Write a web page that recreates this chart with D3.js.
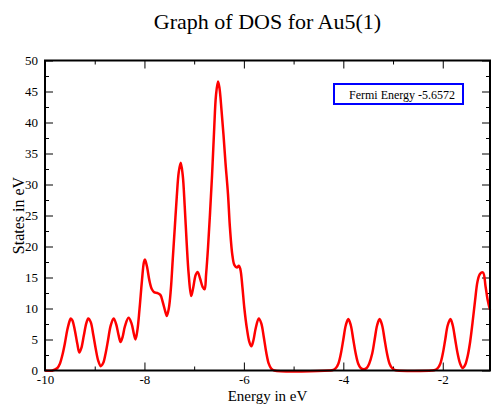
<!DOCTYPE html>
<html>
<head>
<meta charset="utf-8">
<script src="https://cdn.jsdelivr.net/npm/d3@7"></script>
<style>
  html, body { margin: 0; padding: 0; background: #fff; }
  svg { display: block; }
  text { font-family: "Liberation Serif", "Times New Roman", serif; fill: #000; }
</style>
</head>
<body>
<svg id="chart" width="493" height="405"></svg>
<script>
// ---- data ----
const titleText = "Graph of DOS for Au5(1)";
const xLabel = "Energy in eV";
const yLabel = "States in eV";
const legendText = "Fermi Energy -5.6572";
const xTicks = [-10, -8, -6, -4, -2];
const yTicks = [0, 5, 10, 15, 20, 25, 30, 35, 40, 45, 50];
const energy = [
  -10.0, -9.85, -9.75, -9.70, -9.65, -9.60, -9.55, -9.50, -9.48, -9.45, -9.40, -9.35, -9.31,
  -9.27, -9.22, -9.17, -9.13, -9.08, -9.03, -8.98, -8.93, -8.88, -8.83, -8.78, -8.73, -8.68,
  -8.62, -8.57, -8.52, -8.48, -8.44, -8.39, -8.32, -8.26, -8.21, -8.18, -8.14, -8.10, -8.05,
  -8.01, -7.99, -7.95, -7.90, -7.85, -7.80, -7.74, -7.68, -7.63, -7.58, -7.55, -7.51, -7.47,
  -7.43, -7.39, -7.35, -7.31, -7.27, -7.23, -7.19, -7.15, -7.11, -7.06, -7.02, -6.97, -6.93,
  -6.88, -6.83, -6.79, -6.76, -6.72, -6.68, -6.64, -6.60, -6.56, -6.52, -6.49, -6.45, -6.41,
  -6.37, -6.32, -6.28, -6.23, -6.19, -6.14, -6.10, -6.07, -6.03, -5.99, -5.94, -5.89, -5.85,
  -5.81, -5.76, -5.70, -5.65, -5.60, -5.55, -5.50, -5.45, -5.39, -4.28, -4.20, -4.15, -4.10,
  -4.05, -4.00, -3.95, -3.90, -3.85, -3.80, -3.75, -3.70, -3.65, -3.59, -3.53, -3.48, -3.42,
  -3.37, -3.32, -3.27, -3.22, -3.17, -3.12, -3.07, -3.02, -2.97, -2.92, -2.22, -2.15, -2.10,
  -2.05, -2.00, -1.95, -1.90, -1.845, -1.80, -1.75, -1.70, -1.65, -1.60, -1.55, -1.50, -1.45,
  -1.40, -1.35, -1.30, -1.25, -1.19, -1.14, -1.10, -1.05
];
const dos = [
  0.0, 0.0, 0.4, 1.1, 2.5, 4.4, 6.6, 8.1, 8.4, 8.1, 6.5, 4.3, 2.9,
  3.6, 5.6, 7.6, 8.4, 7.8, 5.8, 3.5, 1.6, 0.7, 1.2, 2.8, 5.0, 7.2,
  8.4, 7.5, 5.7, 4.6, 5.4, 7.2, 8.5, 7.6, 5.8, 5.0, 6.6, 9.8, 14.5,
  17.5, 17.9, 16.8, 14.5, 13.1, 12.6, 12.5, 12.2, 11.0, 9.5, 8.8, 10.0, 13.0,
  18.0, 23.0, 28.0, 32.0, 33.5, 31.5, 26.5, 20.5, 15.5, 12.0, 13.3, 15.4, 15.9,
  14.8, 13.5, 13.1, 15.5, 20.0, 25.5, 31.5, 38.5, 44.5, 46.6, 45.5, 42.0, 38.0,
  33.5, 28.5, 23.0, 18.5, 17.0, 16.6, 16.9, 16.3, 13.5, 10.0, 6.8, 4.6, 3.9,
  4.8, 6.9, 8.4, 7.6, 5.4, 2.9, 1.1, 0.3, 0.0, 0.0, 0.1, 0.4, 1.1,
  2.7, 5.0, 7.3, 8.3, 7.3, 5.0, 2.7, 1.1, 0.4, 0.2, 0.4, 1.1, 2.7,
  5.0, 7.3, 8.3, 7.3, 5.0, 2.7, 1.1, 0.4, 0.1, 0.0, 0.0, 0.1, 0.4,
  1.1, 2.7, 5.0, 7.3, 8.3, 7.3, 5.0, 2.7, 1.1, 0.4, 0.9, 2.3, 4.6,
  7.8, 11.3, 14.4, 15.6, 15.8, 13.6, 11.5, 9.8
];

// ---- layout ----
const svg = d3.select("#chart");
const mL = 45, mR = 490, mT = 60.5, mB = 370.5;

const x = d3.scaleLinear().domain([-10, -1.05]).range([mL, mR]);
const y = d3.scaleLinear().domain([0, 50]).range([mB, mT]);

const xMinor = [-9, -7, -5, -3];
const yMinor = d3.range(2.5, 50, 5);
const fmt = d => String(d);

function styleAxis(g) {
  g.attr("font-family", "Liberation Serif, serif").attr("font-size", 13);
  g.select(".domain").remove();
  g.selectAll("line").attr("stroke", "#000").attr("stroke-width", 1);
  g.selectAll("text").attr("fill", "#000");
}

// bottom axis
svg.append("g").attr("transform", `translate(0,${mB})`)
  .call(d3.axisBottom(x).tickValues(xTicks).tickSize(-8).tickPadding(4).tickFormat(fmt))
  .call(styleAxis);
svg.append("g").attr("transform", `translate(0,${mB})`)
  .call(d3.axisBottom(x).tickValues(xMinor).tickSize(-4).tickFormat(""))
  .call(styleAxis);
// top axis
svg.append("g").attr("transform", `translate(0,${mT})`)
  .call(d3.axisTop(x).tickValues(xTicks).tickSize(-8).tickFormat(""))
  .call(styleAxis);
svg.append("g").attr("transform", `translate(0,${mT})`)
  .call(d3.axisTop(x).tickValues(xMinor).tickSize(-4).tickFormat(""))
  .call(styleAxis);
// left axis
svg.append("g").attr("transform", `translate(${mL},0)`)
  .call(d3.axisLeft(y).tickValues(yTicks).tickSize(-8).tickPadding(7).tickFormat(fmt))
  .call(styleAxis);
svg.append("g").attr("transform", `translate(${mL},0)`)
  .call(d3.axisLeft(y).tickValues(yMinor).tickSize(-4).tickFormat(""))
  .call(styleAxis);
// right axis
svg.append("g").attr("transform", `translate(${mR},0)`)
  .call(d3.axisRight(y).tickValues(yTicks).tickSize(-8).tickFormat(""))
  .call(styleAxis);
svg.append("g").attr("transform", `translate(${mR},0)`)
  .call(d3.axisRight(y).tickValues(yMinor).tickSize(-4).tickFormat(""))
  .call(styleAxis);

// curve
const pts = energy.map((e, i) => [e, dos[i]]);
svg.append("path")
  .datum(pts)
  .attr("fill", "none")
  .attr("stroke", "#ff0000")
  .attr("stroke-width", 2.5)
  .attr("stroke-linejoin", "round")
  .attr("d", d3.line().x(d => x(d[0])).y(d => y(d[1])).curve(d3.curveCatmullRom.alpha(0.5)));

// frame
svg.append("rect")
  .attr("x", mL).attr("y", mT)
  .attr("width", mR - mL).attr("height", mB - mT)
  .attr("fill", "none").attr("stroke", "#000").attr("stroke-width", 2);

// title
svg.append("text")
  .attr("x", (mL + mR) / 2).attr("y", 29)
  .attr("text-anchor", "middle")
  .style("font-size", "22px")
  .text(titleText);

// axis labels
svg.append("text")
  .attr("x", (mL + mR) / 2).attr("y", 400.5)
  .attr("text-anchor", "middle")
  .style("font-size", "15px")
  .text(xLabel);
svg.append("text")
  .attr("transform", `translate(24,${(mT + mB) / 2}) rotate(-90)`)
  .attr("text-anchor", "middle")
  .style("font-size", "16px")
  .text(yLabel);

// legend box
svg.append("rect")
  .attr("x", 334).attr("y", 84).attr("width", 129).attr("height", 20)
  .attr("fill", "#fff").attr("stroke", "#0000ff").attr("stroke-width", 2);
svg.append("text")
  .attr("x", 349).attr("y", 98.5)
  .style("font-size", "12px")
  .text(legendText);
</script>
</body>
</html>
